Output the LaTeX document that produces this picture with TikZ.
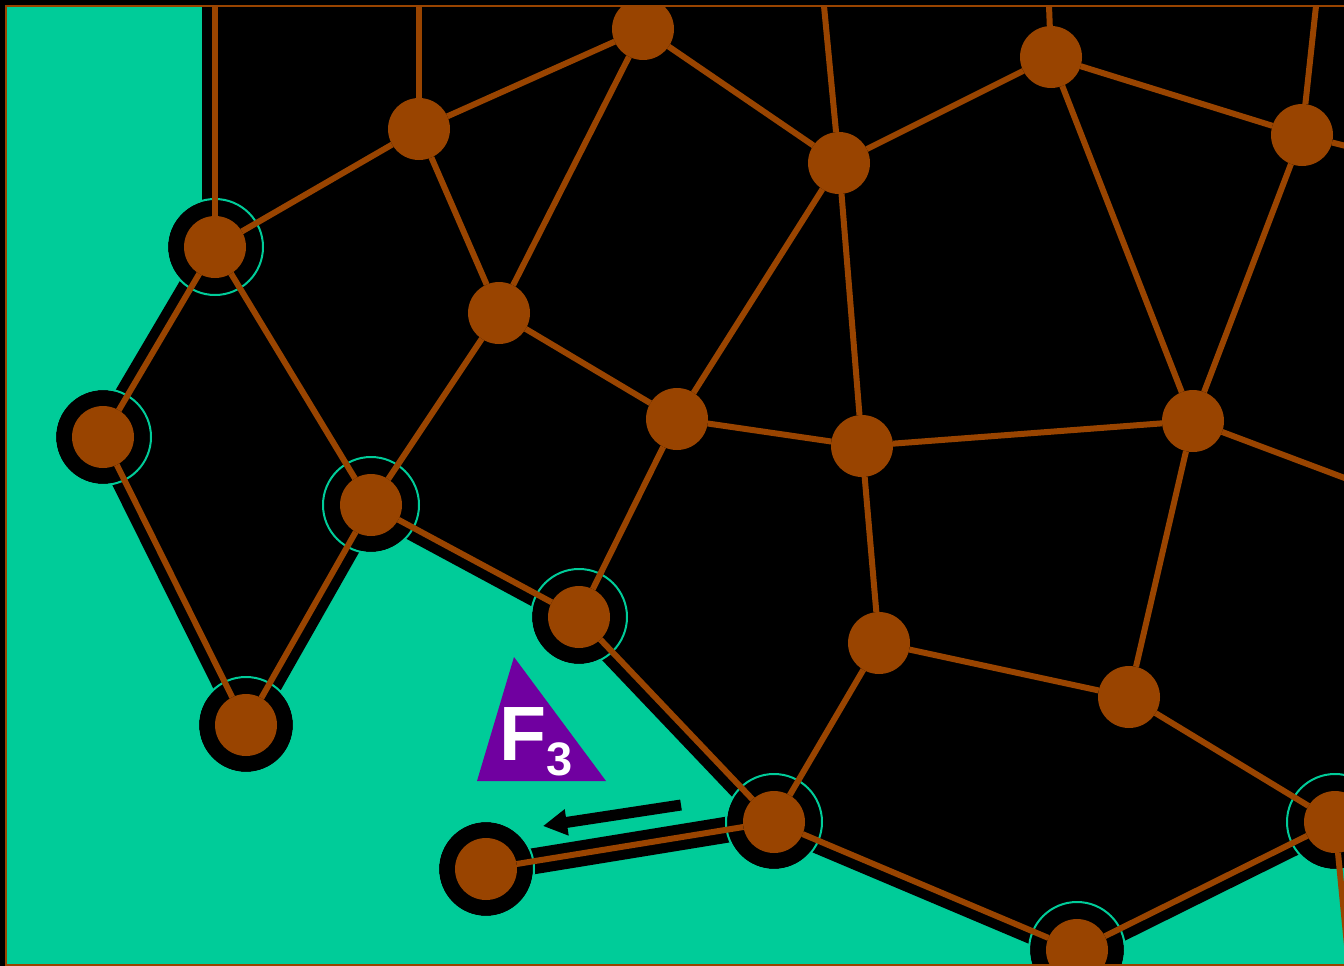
\documentclass[tikz,border=0pt]{standalone}
\usepackage{fontspec}
\setmainfont{Liberation Sans}
\usetikzlibrary{arrows.meta}
\definecolor{bgreen}{RGB}{0,204,153}
\definecolor{brn}{RGB}{153,68,0}
\definecolor{purp}{RGB}{112,0,160}
\begin{document}
\begin{tikzpicture}[x=1pt,y=-1pt,
  vtx/.style={circle,fill=brn,minimum size=62pt,inner sep=0pt,outer sep=0pt},
  edge/.style={draw=brn,line width=6pt},
  halo/.style={fill=black},
  ring/.style={draw=bgreen,line width=2pt},
  bound/.style={draw=black,line width=26pt,line join=round,line cap=round}]
\useasboundingbox (0,0) rectangle (1344,966);
\fill[black] (0,0) rectangle (1344,966);
% positions
\coordinate (pA) at (215,247);
\coordinate (pB) at (103,437);
\coordinate (pC) at (246,725);
\coordinate (pD) at (371,505);
\coordinate (pE) at (579,617);
\coordinate (pF) at (774,822);
\coordinate (pG) at (486,869);
\coordinate (pH) at (1077,950);
\coordinate (pI) at (1335,822);
\coordinate (pJ) at (419,129);
\coordinate (pK) at (643,29);
\coordinate (pL) at (839,163);
\coordinate (pM) at (1051,57);
\coordinate (pN) at (1302,135);
\coordinate (pO) at (499,313);
\coordinate (pP) at (677,419);
\coordinate (pQ) at (862,446);
\coordinate (pR) at (1193,421);
\coordinate (pS) at (879,643);
\coordinate (pT) at (1129,697);
% free ends
\coordinate (tA) at (215,6);
\coordinate (tJ) at (419,6);
\coordinate (tL) at (824,6);
\coordinate (tM) at (1049,6);
\coordinate (tN) at (1316,6);
\coordinate (rN) at (1350,147);
\coordinate (rR) at (1350,480);
\coordinate (rI) at (1349,966);
\begin{scope}
\clip (6,6) rectangle (1350,965);
% exterior region
\fill[bgreen] (6,6) -- (tA) -- (pA) -- (pB) -- (pC) -- (pD) -- (pE) -- (pF)
  -- (pH) -- (pI) -- (1360,822) -- (1360,966) -- (6,966) -- cycle;
% boundary bands
\draw[bound] (tA) -- (pA) -- (pB) -- (pC) -- (pD) -- (pE) -- (pF) -- (pH) -- (pI);
\draw[bound] (pF) -- (pG);
\foreach \p in {pA,pB,pC,pD,pE,pF,pG,pH,pI} \fill[halo] (\p) circle (47);
\foreach \p in {pA,pB,pC,pD,pE,pF,pG,pH,pI} \draw[ring] (\p) circle (48);
% arrow
\draw[black,line width=11pt,-{Triangle[width=25pt,length=24pt]}] (681,805) -- (543,826);
% triangle and label
\fill[purp] (514,657) -- (477,781) -- (606,781) -- cycle;
\node[anchor=base west,inner sep=0pt,text=white,font=\bfseries] (lbl) at (499,760)
  {\fontsize{77}{77}\selectfont F\raisebox{-15pt}{\fontsize{47}{47}\selectfont 3}};
% vertices
\foreach \n in {A,B,C,D,E,F,G,H,I,J,K,L,M,N,O,P,Q,R,S,T} \node[vtx] (\n) at (p\n) {};
% edges
\draw[edge] (tA) -- (A);
\draw[edge] (tJ) -- (J);
\draw[edge] (tL) -- (L);
\draw[edge] (tM) -- (M);
\draw[edge] (tN) -- (N);
\draw[edge] (N) -- (rN);
\draw[edge] (R) -- (rR);
\draw[edge] (I) -- (rI);
\draw[edge] (A) -- (J);
\draw[edge] (J) -- (K);
\draw[edge] (K) -- (L);
\draw[edge] (L) -- (M);
\draw[edge] (M) -- (N);
\draw[edge] (J) -- (O);
\draw[edge] (K) -- (O);
\draw[edge] (A) -- (D);
\draw[edge] (A) -- (B);
\draw[edge] (B) -- (C);
\draw[edge] (C) -- (D);
\draw[edge] (O) -- (D);
\draw[edge] (O) -- (P);
\draw[edge] (L) -- (P);
\draw[edge] (L) -- (Q);
\draw[edge] (M) -- (R);
\draw[edge] (N) -- (R);
\draw[edge] (P) -- (Q);
\draw[edge] (Q) -- (R);
\draw[edge] (P) -- (E);
\draw[edge] (D) -- (E);
\draw[edge] (E) -- (F);
\draw[edge] (Q) -- (S);
\draw[edge] (S) -- (F);
\draw[edge] (S) -- (T);
\draw[edge] (R) -- (T);
\draw[edge] (T) -- (I);
\draw[edge] (F) -- (H);
\draw[edge] (H) -- (I);
\draw[edge] (F) -- (G);
\end{scope}
% frame
\draw[brn,line width=2.5pt] (6,6) rectangle (1360,965);
\end{tikzpicture}
\end{document}
